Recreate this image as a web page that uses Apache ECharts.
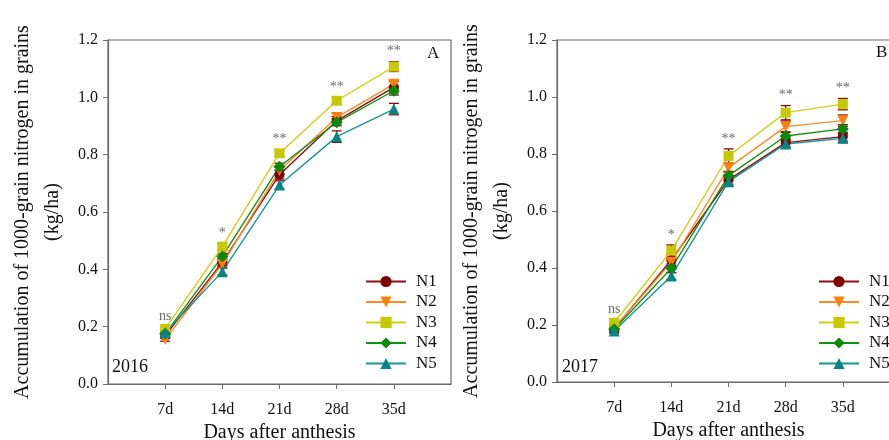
<!DOCTYPE html>
<html>
<head>
<meta charset="utf-8">
<script src="https://cdn.jsdelivr.net/npm/echarts@6/dist/echarts.min.js"></script>
<style>
  html, body { margin: 0; padding: 0; background: #fff; }
  #chart { width: 889px; height: 440px; }
</style>
</head>
<body>
<div id="chart"></div>
<script>
// ===== data =====
var days = [7, 14, 21, 28, 35];
var names = ['N1', 'N2', 'N3', 'N4', 'N5'];
var sigLabels = ['ns', '*', '**', '**', '**'];

// 2016
var n1_2016 = [0.168, 0.425, 0.730, 0.918, 1.035];
var n2_2016 = [0.155, 0.418, 0.745, 0.930, 1.046];
var n3_2016 = [0.192, 0.479, 0.805, 0.988, 1.107];
var n4_2016 = [0.175, 0.445, 0.758, 0.913, 1.023];
var n5_2016 = [0.180, 0.392, 0.694, 0.863, 0.959];
var err1_2016 = [0.008, 0.012, 0.015, 0.015, 0.020];
var err2_2016 = [0.006, 0.010, 0.012, 0.015, 0.015];
var err3_2016 = [0.008, 0.012, 0.012, 0.012, 0.017];
var err4_2016 = [0.008, 0.010, 0.012, 0.012, 0.015];
var err5_2016 = [0.008, 0.012, 0.015, 0.020, 0.020];

// 2017
var n1_2017 = [0.188, 0.428, 0.709, 0.840, 0.861];
var n2_2017 = [0.190, 0.420, 0.752, 0.896, 0.917];
var n3_2017 = [0.208, 0.461, 0.793, 0.945, 0.975];
var n4_2017 = [0.185, 0.399, 0.724, 0.863, 0.888];
var n5_2017 = [0.179, 0.372, 0.703, 0.835, 0.855];
var err1_2017 = [0.010, 0.020, 0.015, 0.015, 0.015];
var err2_2017 = [0.010, 0.015, 0.015, 0.020, 0.020];
var err3_2017 = [0.012, 0.020, 0.025, 0.025, 0.020];
var err4_2017 = [0.010, 0.015, 0.015, 0.015, 0.015];
var err5_2017 = [0.008, 0.012, 0.015, 0.015, 0.015];

var FONT = '"Liberation Serif", "Times New Roman", serif';
var AXIS_COLOR = '#6b6b6b';
var ERR_COLOR = '#8b0a0a';

var styles = [
    { color: '#7f0000', line: '#8b1010', symbol: 'circle', size: 10 },
    { color: '#ff7f0e', line: '#ff8a2a', symbol: 'path://M0,0 L10,0 L5,9 Z', size: 11 },
    { color: '#c8c800', line: '#cfcf1a', symbol: 'rect', size: 10 },
    { color: '#078a07', line: '#129212', symbol: 'diamond', size: 12 },
    { color: '#088484', line: '#1a9595', symbol: 'triangle', size: 11 }
];

var years = [
    { vals: [n1_2016, n2_2016, n3_2016, n4_2016, n5_2016], errs: [err1_2016, err2_2016, err3_2016, err4_2016, err5_2016] },
    { vals: [n1_2017, n2_2017, n3_2017, n4_2017, n5_2017], errs: [err1_2017, err2_2017, err3_2017, err4_2017, err5_2017] }
];

function errorBar(params, api) {
    var x = api.value(0);
    var lo = api.coord([x, api.value(1)]);
    var hi = api.coord([x, api.value(2)]);
    var w = 5;
    var st = { stroke: ERR_COLOR, lineWidth: 1.3 };
    return {
        type: 'group',
        children: [
            { type: 'line', shape: { x1: lo[0], y1: lo[1], x2: hi[0], y2: hi[1] }, style: st },
            { type: 'line', shape: { x1: lo[0] - w, y1: lo[1], x2: lo[0] + w, y2: lo[1] }, style: st },
            { type: 'line', shape: { x1: hi[0] - w, y1: hi[1], x2: hi[0] + w, y2: hi[1] }, style: st }
        ]
    };
}

var series = [];
years.forEach(function (yr, gi) {
    // error bars (behind)
    yr.vals.forEach(function (vals, si) {
        series.push({
            type: 'custom',
            xAxisIndex: gi, yAxisIndex: gi,
            renderItem: errorBar,
            encode: { x: 0, y: [1, 2] },
            z: 1,
            silent: true,
            data: days.map(function (d, i) { return [d, vals[i] - yr.errs[si][i], vals[i] + yr.errs[si][i]]; })
        });
    });
    // lines
    yr.vals.forEach(function (vals, si) {
        var s = styles[si];
        series.push({
            name: names[si],
            type: 'line',
            xAxisIndex: gi, yAxisIndex: gi,
            symbol: s.symbol,
            symbolSize: s.size,
            z: 3,
            lineStyle: { color: s.line, width: 1.4 },
            itemStyle: { color: s.color },
            data: days.map(function (d, i) { return [d, vals[i]]; })
        });
    });
    // significance marks
    series.push({
        type: 'scatter',
        xAxisIndex: gi, yAxisIndex: gi,
        symbolSize: 0,
        silent: true,
        z: 4,
        label: {
            show: true,
            position: 'top',
            distance: 3,
            fontFamily: FONT,
            fontSize: 14,
            color: '#444',
            formatter: function (p) { return sigLabels[p.dataIndex]; }
        },
        data: days.map(function (d, i) {
            var top = 0;
            yr.vals.forEach(function (v, si) { top = Math.max(top, v[i] + yr.errs[si][i]); });
            return [d, top];
        })
    });
});

function xAxis(gi) {
    return {
        type: 'value', gridIndex: gi, min: 0, max: 42, interval: 7,
        axisLine: { lineStyle: { color: AXIS_COLOR, width: 1.2 } },
        axisTick: { inside: false, length: 5, customValues: days, lineStyle: { color: AXIS_COLOR } },
        axisLabel: {
            customValues: days, margin: 18,
            fontFamily: FONT, fontSize: 16, color: '#111',
            formatter: function (v) { return v + 'd'; }
        },
        splitLine: { show: false },
        name: 'Days after anthesis',
        nameLocation: 'middle',
        nameGap: 36,
        nameTextStyle: { fontFamily: FONT, fontSize: 20, color: '#111' }
    };
}

function yAxis(gi) {
    return {
        type: 'value', gridIndex: gi, min: 0, max: 1.2, interval: 0.2,
        axisLine: { show: true, lineStyle: { color: AXIS_COLOR, width: 1.2 } },
        axisTick: { show: true, inside: false, length: 5, lineStyle: { color: AXIS_COLOR } },
        axisLabel: {
            margin: 10, fontFamily: FONT, fontSize: 16, color: '#111',
            formatter: function (v) { return v.toFixed(1); }
        },
        splitLine: { show: false },
        name: 'Accumulation of 1000-grain nitrogen in grains\n(kg/ha)',
        nameLocation: 'middle',
        nameGap: 40,
        nameTextStyle: { fontFamily: FONT, fontSize: 20, lineHeight: 30, color: '#111' }
    };
}

function legend(left) {
    return {
        orient: 'vertical',
        left: left, top: 273,
        padding: 0,
        itemWidth: 40, itemHeight: 14, itemGap: 3.5,
        data: names,
        textStyle: { fontFamily: FONT, fontSize: 17, color: '#111', padding: [0, 0, 0, 5] }
    };
}

var chart = echarts.init(document.getElementById('chart'));
chart.setOption({
    backgroundColor: '#fff',
    animation: false,
    grid: [
        { left: 108, top: 40, width: 343, height: 344, outerBoundsMode: 'none', show: true, borderColor: AXIS_COLOR, borderWidth: 1.2 },
        { left: 557, top: 40, width: 343, height: 342, outerBoundsMode: 'none', show: true, borderColor: AXIS_COLOR, borderWidth: 1.2 }
    ],
    xAxis: [xAxis(0), xAxis(1)],
    yAxis: [yAxis(0), yAxis(1)],
    legend: [legend(365), legend(818)],
    graphic: [
        { type: 'text', left: 427, top: 45, style: { text: 'A', font: '17px ' + FONT, fill: '#111' } },
        { type: 'text', left: 876, top: 44, style: { text: 'B', font: '17px ' + FONT, fill: '#111' } },
        { type: 'text', left: 112, top: 358, style: { text: '2016', font: '18px ' + FONT, fill: '#111' } },
        { type: 'text', left: 562, top: 358, style: { text: '2017', font: '18px ' + FONT, fill: '#111' } }
    ],
    series: series
});
</script>
</body>
</html>
